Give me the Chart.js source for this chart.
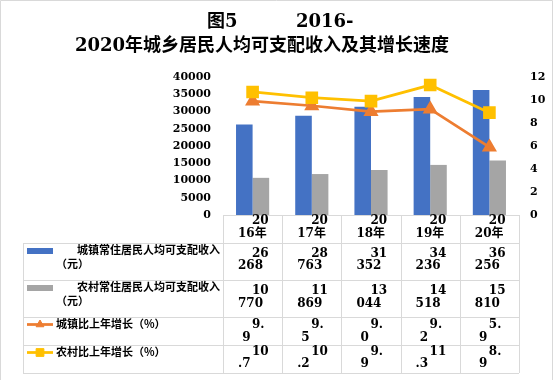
<!DOCTYPE html>
<html><head><meta charset="utf-8">
<script src="https://cdn.jsdelivr.net/npm/chart.js@4/dist/chart.umd.min.js"></script>
<style>html,body{margin:0;padding:0;background:#fff}canvas{display:block}</style>
</head><body>
<canvas id="c" width="554" height="380"></canvas>
<script>
// ---- data ----
const categories = ['2016年', '2017年', '2018年', '2019年', '2020年'];
const urbanIncome = [26268, 28763, 31352, 34236, 36256];
const ruralIncome = [10770, 11869, 13044, 14518, 15810];
const urbanGrowth = [9.9, 9.5, 9.0, 9.2, 5.9];
const ruralGrowth = [10.7, 10.2, 9.9, 11.3, 8.9];
const seriesNames = ['城镇常住居民人均可支配收入（元）', '农村常住居民人均可支配收入（元）', '城镇比上年增长（%）', '农村比上年增长（%）'];
const titleParts = ['图5', '2016-', '2020年城乡居民人均可支配收入及其增长速度'];
const incomeTicks = {min: 0, max: 40000, step: 5000};
const growthTicks = {min: 0, max: 12, step: 2};

// ---- styles ----
const C_BLUE = '#4472C4', C_GRAY = '#A5A5A5', C_ORANGE = '#ED7D31', C_YELLOW = '#FFC000';
const GRID = '#D9D9D9';
const NUM_FONT = "'DejaVu Serif', 'Noto Sans CJK SC', serif";
const CJK_FONT = "'Noto Sans CJK SC', sans-serif";

function fmtMoney(v) { return Math.floor(v / 1000) + ' ' + String(v % 1000).padStart(3, '0'); }
function fmtPct(v) { return v.toFixed(1); }
function split2(s) { return [s.slice(0, 2).trim(), s.slice(2).trim()]; }

function crisp(v) { return Math.round(v) + 0.5; }

function drawMarker(ctx, style, x, y, r, color) {
  ctx.save();
  ctx.fillStyle = color; ctx.strokeStyle = color; ctx.lineWidth = 1;
  ctx.beginPath();
  if (style === 'triangle') {
    const w = r * Math.sqrt(3);
    ctx.moveTo(x, y - r);
    ctx.lineTo(x + w / 2, y + r / 2);
    ctx.lineTo(x - w / 2, y + r / 2);
    ctx.closePath();
  } else {
    const s = r * Math.SQRT1_2;
    ctx.rect(x - s, y - s, 2 * s, 2 * s);
  }
  ctx.fill(); ctx.stroke();
  ctx.restore();
}

const tablePlugin = {
  id: 'dataTable',
  beforeDraw(chart) {
    const ctx = chart.ctx;
    ctx.save();
    ctx.fillStyle = '#fff';
    ctx.fillRect(0, 0, chart.width, chart.height);
    ctx.restore();
  },
  afterDraw(chart) {
    const ctx = chart.ctx;
    const xs = chart.scales.x;
    const area = chart.chartArea;
    const n = categories.length;
    const half = (xs.getPixelForValue(1) - xs.getPixelForValue(0)) / 2;
    const edges = [];
    for (let i = 0; i < n; i++) edges.push(xs.getPixelForValue(i) - half);
    edges.push(xs.getPixelForValue(n - 1) + half);

    const top = area.bottom;
    const rowH = [28, 37, 37, 28, 28];
    const rowTop = [top];
    for (let i = 0; i < rowH.length; i++) rowTop.push(rowTop[i] + rowH[i]);
    const legendLeft = 23;

    ctx.save();
    // outer frame
    ctx.strokeStyle = GRID; ctx.lineWidth = 1;
    ctx.beginPath();
    ctx.moveTo(0.5, chart.height + 2); ctx.lineTo(0.5, 0.5); ctx.lineTo(552.5, 0.5); ctx.lineTo(552.5, chart.height + 2);
    ctx.stroke();

    // table grid
    ctx.beginPath();
    ctx.moveTo(edges[0], crisp(top)); ctx.lineTo(edges[n], crisp(top));
    for (let r = 1; r < rowTop.length; r++) {
      ctx.moveTo(legendLeft, crisp(rowTop[r])); ctx.lineTo(edges[n], crisp(rowTop[r]));
    }
    for (let i = 0; i <= n; i++) {
      ctx.moveTo(crisp(edges[i]), top); ctx.lineTo(crisp(edges[i]), rowTop[rowTop.length - 1]);
    }
    ctx.moveTo(crisp(legendLeft), rowTop[1]); ctx.lineTo(crisp(legendLeft), rowTop[rowTop.length - 1]);
    ctx.stroke();

    // cell texts
    ctx.fillStyle = '#000';
    ctx.textBaseline = 'middle';
    const rows = [
      categories.map(s => s),
      urbanIncome.map(fmtMoney),
      ruralIncome.map(fmtMoney),
      urbanGrowth.map(fmtPct),
      ruralGrowth.map(fmtPct)
    ];
    const lineY = [[6, 19], [11, 23], [11, 24], [8, 20.5], [7, 19]];
    ctx.font = 'bold 12px ' + NUM_FONT;
    rows.forEach((vals, r) => {
      vals.forEach((s, i) => {
        const [a, b] = split2(s);
        const left = edges[i];
        ctx.textAlign = 'left';
        ctx.fillText(a, left + 29, rowTop[r] + lineY[r][0]);
        if (r >= 3) {
          ctx.textAlign = 'right';
          ctx.fillText(b, left + 27.5, rowTop[r] + lineY[r][1]);
        } else {
          ctx.textAlign = 'left';
          ctx.fillText(b, left + 15, rowTop[r] + lineY[r][1]);
        }
      });
    });

    // legend cells
    ctx.textAlign = 'left';
    ctx.font = 'bold 11px ' + CJK_FONT;
    const swL = 27, swR = 53;
    [[C_BLUE, 1], [C_GRAY, 2]].forEach(([col, r]) => {
      const name = seriesNames[r - 1];
      const k = name.indexOf('（');
      ctx.fillStyle = col;
      ctx.fillRect(swL, rowTop[r] + 5, swR - swL, 6);
      ctx.fillStyle = '#000';
      ctx.fillText(name.slice(0, k), 77, rowTop[r] + 7);
      ctx.fillText(name.slice(k), 56, rowTop[r] + 21);
    });
    [[C_ORANGE, 3, 'triangle'], [C_YELLOW, 4, 'rect']].forEach(([col, r, st]) => {
      const y = rowTop[r] + 7.5;
      ctx.strokeStyle = col; ctx.lineWidth = 2.75;
      ctx.beginPath(); ctx.moveTo(swL, y); ctx.lineTo(swR, y); ctx.stroke();
      drawMarker(ctx, st, (swL + swR) / 2, y, st === 'rect' ? 5.5 : 4.5, col);
      ctx.fillStyle = '#000';
      ctx.fillText(seriesNames[r - 1], 56, rowTop[r] + 6.5);
    });

    // title
    ctx.fillStyle = '#000';
    ctx.font = 'bold 18px ' + NUM_FONT;
    ctx.textAlign = 'left';
    ctx.fillText(titleParts[0], 207, 22);
    ctx.fillText(titleParts[1], 296, 22);
    ctx.textAlign = 'center';
    ctx.fillText(titleParts[2], 262, 46);
    ctx.restore();
  }
};

const tickFont = {family: NUM_FONT, size: 11, weight: 'bold'};
const plainTick = v => String(v);

new Chart(document.getElementById('c'), {
  type: 'bar',
  data: {
    labels: categories,
    datasets: [
      {type: 'bar', label: seriesNames[0], data: urbanIncome, backgroundColor: C_BLUE, yAxisID: 'y', order: 2,
        categoryPercentage: 0.56, barPercentage: 1},
      {type: 'bar', label: seriesNames[1], data: ruralIncome, backgroundColor: C_GRAY, yAxisID: 'y', order: 2,
        categoryPercentage: 0.56, barPercentage: 1},
      {type: 'line', label: seriesNames[2], data: urbanGrowth, borderColor: C_ORANGE, backgroundColor: C_ORANGE,
        pointBackgroundColor: C_ORANGE, pointBorderColor: C_ORANGE, pointStyle: 'triangle', pointRadius: 6,
        borderWidth: 2.75, yAxisID: 'y1', order: 1, tension: 0},
      {type: 'line', label: seriesNames[3], data: ruralGrowth, borderColor: C_YELLOW, backgroundColor: C_YELLOW,
        pointBackgroundColor: C_YELLOW, pointBorderColor: C_YELLOW, pointStyle: 'rect', pointRadius: 7,
        borderWidth: 2.75, yAxisID: 'y1', order: 0, tension: 0}
    ]
  },
  options: {
    responsive: false,
    animation: false,
    devicePixelRatio: 1,
    layout: {padding: {left: 0, right: 0, top: 77, bottom: 165}},
    plugins: {legend: {display: false}, title: {display: false}, tooltip: {enabled: false}},
    scales: {
      x: {display: false, offset: true, grid: {display: false}},
      y: {
        position: 'left', min: incomeTicks.min, max: incomeTicks.max,
        ticks: {stepSize: incomeTicks.step, padding: 12, font: tickFont, color: '#000', callback: plainTick},
        grid: {display: false, drawTicks: false}, border: {display: false},
        afterFit(s) { s.width = 223; }
      },
      y1: {
        position: 'right', min: growthTicks.min, max: growthTicks.max,
        ticks: {stepSize: growthTicks.step, padding: 11, font: tickFont, color: '#000', callback: plainTick},
        grid: {display: false, drawTicks: false}, border: {display: false},
        afterFit(s) { s.width = 35; }
      }
    }
  },
  plugins: [tablePlugin]
});
</script>
</body></html>
